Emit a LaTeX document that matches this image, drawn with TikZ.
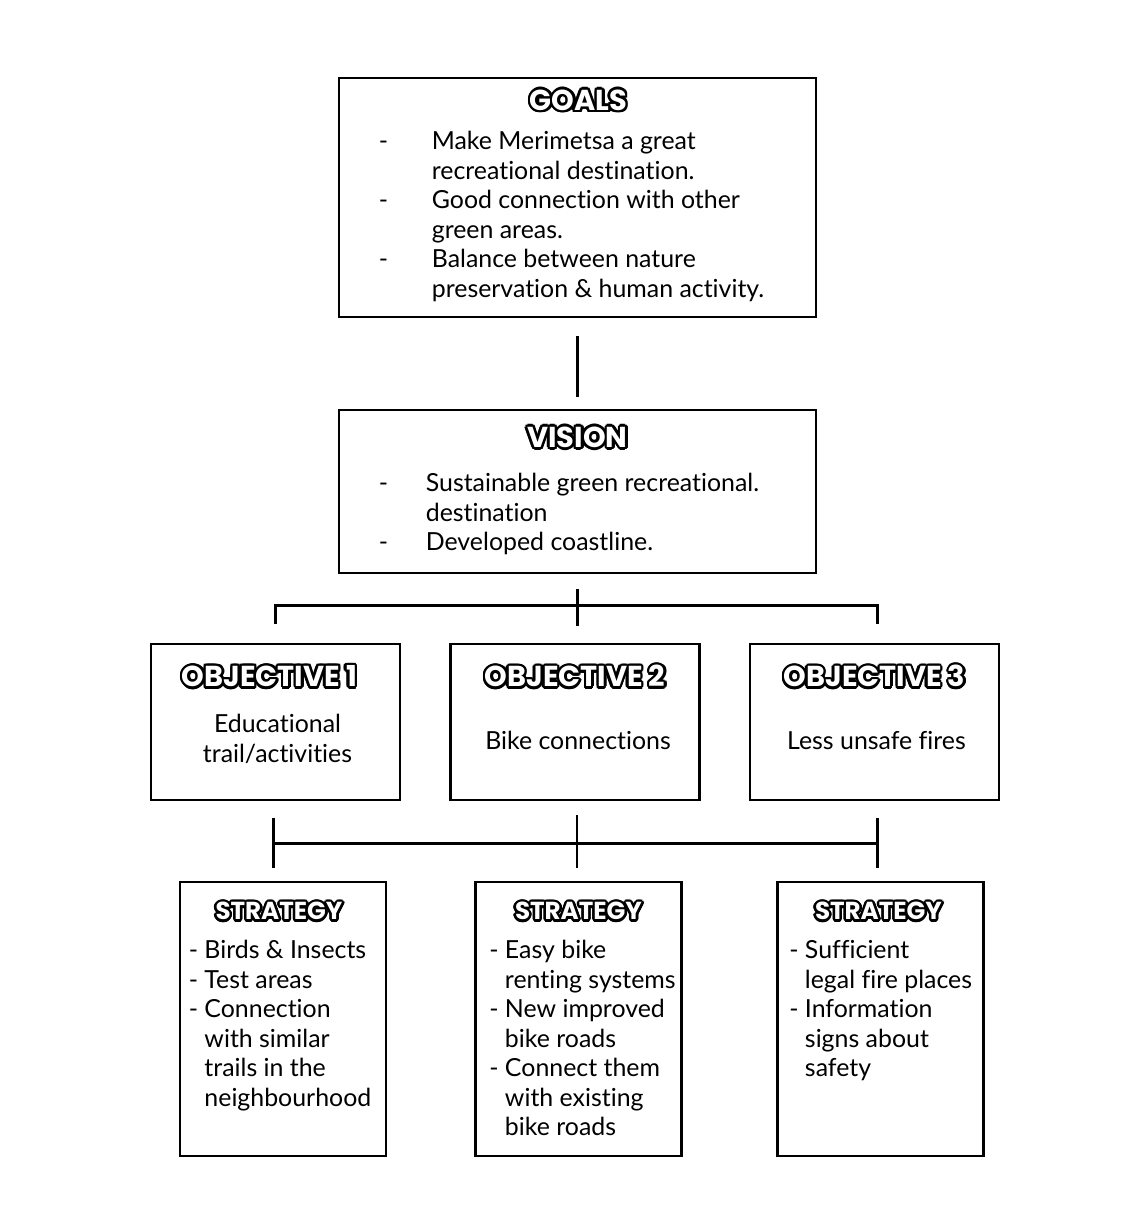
\documentclass[tikz,border=0pt]{standalone}
\usepackage{fontspec}
\setmainfont{Lato}[Ligatures=NoCommon]
\newfontfamily\titlefont{Poppins}
\usepackage{contour}
\contourlength{1.8pt}
\usetikzlibrary{positioning, calc}
\tikzset{
    planbox/.style={draw, rectangle, line width=2pt, inner sep=0pt},
    goalbox/.style={planbox, minimum width=11.925cm},
    objbox/.style={planbox, minimum width=6.225cm, minimum height=3.9cm},
    stratbox/.style={planbox, minimum width=5.15cm, minimum height=6.85cm},
    boxtitle/.style={font=\titlefont\bfseries\fontsize{20.5}{22}\selectfont, text=white, inner sep=0pt},
    smalltitle/.style={boxtitle, font=\titlefont\bfseries\fontsize{17.5}{20}\selectfont},
    bodytext/.style={font=\fontsize{17.7}{21}\selectfont, inner sep=0pt},
    treeline/.style={line width=1.7pt},
}
\newcommand{\outlined}[1]{\contour{black}{#1}}

\begin{document}
\begin{tikzpicture}[x=0.025cm, y=-0.025cm]
    \useasboundingbox (0,0) rectangle (1125,1221);

    % GOALS block
    \node[goalbox, minimum height=5.975cm] (goals) at (577.5,197.5) {};
    \node[boxtitle] (goalstitle) at ($(goals.north)+(1,25)$) {\outlined{GOALS}};
    \node[bodytext, anchor=base west] (goalslist) at ($(goals.north west)+(41,73)$) {\begin{tabular}[t]{@{}p{1.325cm}@{}l@{}}
        - & Make Merimetsa a great\\
          & recreational destination.\\
        - & Good connection with other\\
          & green areas.\\
        - & Balance between nature\\
          & preservation \& human activity.
    \end{tabular}};

    % VISION block
    \node[goalbox, minimum height=4.075cm] (vision) at (577.5,491.5) {};
    \node[boxtitle] (visiontitle) at ($(vision.north)+(0,30)$) {\outlined{VISION}};
    \node[bodytext, anchor=base west] (visionlist) at ($(vision.north west)+(41,83)$) {\begin{tabular}[t]{@{}p{1.175cm}@{}l@{}}
        - & Sustainable green recreational.\\
          & destination\\
        - & Developed coastline.
    \end{tabular}};

    % OBJECTIVES
    \node[objbox] (obj1) at (275.5,722) {};
    \node[objbox] (obj2) at (575,722) {};
    \node[objbox] (obj3) at (874.5,722) {};
    \node[boxtitle] (obj1title) at ($(obj1.north)+(-6,35)$) {\outlined{OBJECTIVE 1}};
    \node[boxtitle] (obj2title) at ($(obj2.north)+(0,35)$) {\outlined{OBJECTIVE 2}};
    \node[boxtitle] (obj3title) at ($(obj3.north)+(0,35)$) {\outlined{OBJECTIVE 3}};
    \node[bodytext, anchor=base] (obj1text) at ($(obj1.north)+(2,90)$) {\begin{tabular}[t]{@{}c@{}}Educational\\trail/activities\end{tabular}};
    \node[bodytext, anchor=base] (obj2text) at ($(obj2.north)+(3,107)$) {Bike connections};
    \node[bodytext, anchor=base] (obj3text) at ($(obj3.north)+(2,107)$) {Less unsafe fires};

    % STRATEGIES
    \node[stratbox] (strat1) at (283,1019) {};
    \node[stratbox] (strat2) at (578.5,1019) {};
    \node[stratbox] (strat3) at (880.5,1019) {};
    \node[smalltitle] (strat1title) at ($(strat1.north)+(-4,32)$) {\outlined{STRATEGY}};
    \node[smalltitle] (strat2title) at ($(strat2.north)+(0,32)$) {\outlined{STRATEGY}};
    \node[smalltitle] (strat3title) at ($(strat3.north)+(-2,32)$) {\outlined{STRATEGY}};
    \node[bodytext, anchor=base west] (strat1text) at ($(strat1.north west)+(10,78)$) {\begin{tabular}[t]{@{}l@{}}
        - Birds \& Insects\\
        - Test areas\\
        - Connection\\
        \phantom{- }with similar\\
        \phantom{- }trails in the\\
        \phantom{- }neighbourhood
    \end{tabular}};
    \node[bodytext, anchor=base west] (strat2text) at ($(strat2.north west)+(15,78)$) {\begin{tabular}[t]{@{}l@{}}
        - Easy bike\\
        \phantom{- }renting systems\\
        - New improved\\
        \phantom{- }bike roads\\
        - Connect them\\
        \phantom{- }with existing\\
        \phantom{- }bike roads
    \end{tabular}};
    \node[bodytext, anchor=base west] (strat3text) at ($(strat3.north west)+(13,78)$) {\begin{tabular}[t]{@{}l@{}}
        - Sufficient\\
        \phantom{- }legal fire places\\
        - Information\\
        \phantom{- }signs about\\
        \phantom{- }safety
    \end{tabular}};

    % tree lines
    \draw[treeline] ($(goals.south)+(0,18)$) -- ($(vision.north)+(0,-12)$);
    \coordinate (visionhub) at ($(vision.south)+(0,31)$);
    \draw[treeline] ($(vision.south)+(0,15)$) -- ($(vision.south)+(0,52)$);
    \draw[treeline] ($(obj1.north)+(0,-19)$) |- (visionhub) -| ($(obj3.north)+(3,-19)$);
    \draw[treeline] ($(obj1.south)+(-2,17)$) -- ($(obj1.south)+(-2,67)$);
    \draw[treeline] ($(obj2.south)+(2,14)$) -- ($(obj2.south)+(2,67)$);
    \draw[treeline] ($(obj3.south)+(3,17)$) -- ($(obj3.south)+(3,67)$);
    \draw[treeline] ($(obj1.south)+(-2,42)$) -- ($(obj3.south)+(3,42)$);
\end{tikzpicture}
\end{document}
